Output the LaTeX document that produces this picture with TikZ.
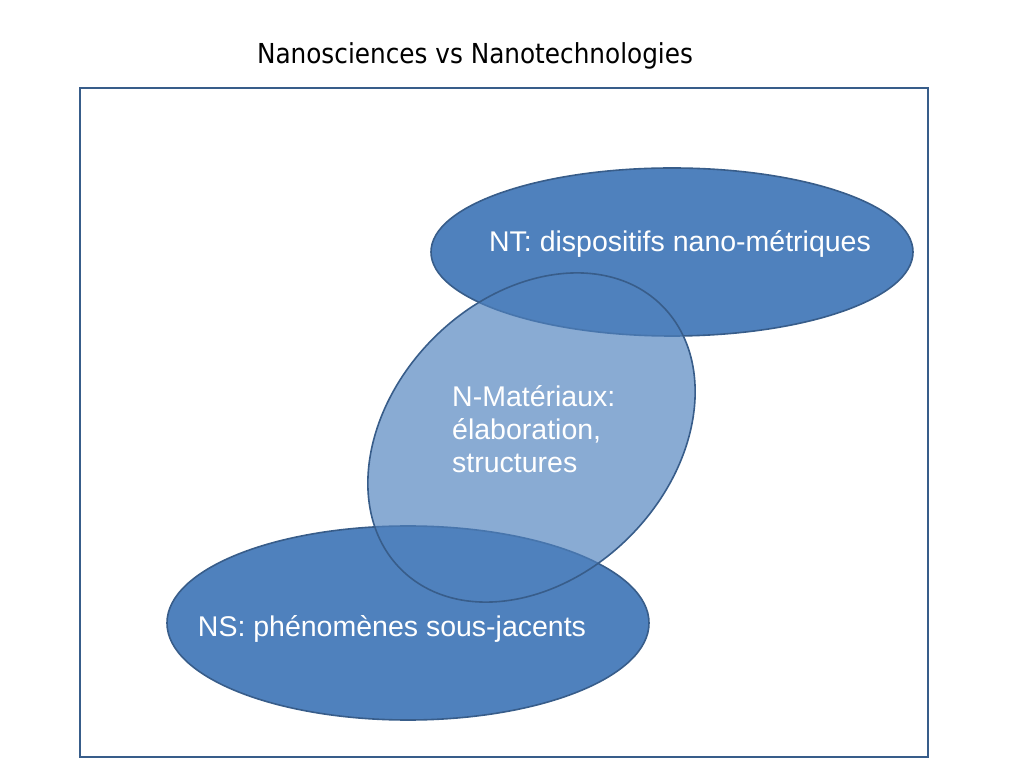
\documentclass[tikz,border=0pt]{standalone}
\usepackage{fontspec}
\setmainfont{Liberation Sans}
\newfontfamily\titlefont{DejaVu Sans Condensed}
\usetikzlibrary{shapes.geometric}
\definecolor{ofblue}{HTML}{4F81BD}
\definecolor{ofline}{HTML}{385D8A}
\tikzset{
  blob/.style={ellipse, draw=ofline, line width=1.6pt, fill=ofblue, inner sep=0pt},
  lbl/.style={text=white, font=\fontsize{28.5}{33.2}\selectfont, inner sep=0pt},
}
\begin{document}
\begin{tikzpicture}[x=1pt,y=1pt]
\useasboundingbox (0,0) rectangle (1024,768);
\node[font=\titlefont\fontsize{27.5}{31}\selectfont, anchor=base, inner sep=0pt] (title) at (475,704.7) {Nanosciences vs Nanotechnologies};
\draw[ofline, line width=2.4pt] (80,680) rectangle (928,11);
\node[blob, minimum width=482pt, minimum height=168pt] (nt) at (672,516) {};
\node[blob, minimum width=482pt, minimum height=194pt] (ns) at (408,145) {};
\node[blob, fill opacity=0.67, minimum width=371pt, minimum height=279pt, rotate=45.6] (nm) at (531.5,330.5) {};
\node[lbl, anchor=base] (ntl) at (680,516.3) {NT: dispositifs nano-métriques};
\node[lbl, anchor=base] (nsl) at (392,131.3) {NS: phénomènes sous-jacents};
\node[lbl, anchor=base west, align=left] (nml) at (452,295) {N-Matériaux:\\élaboration,\\structures};
\end{tikzpicture}
\end{document}
